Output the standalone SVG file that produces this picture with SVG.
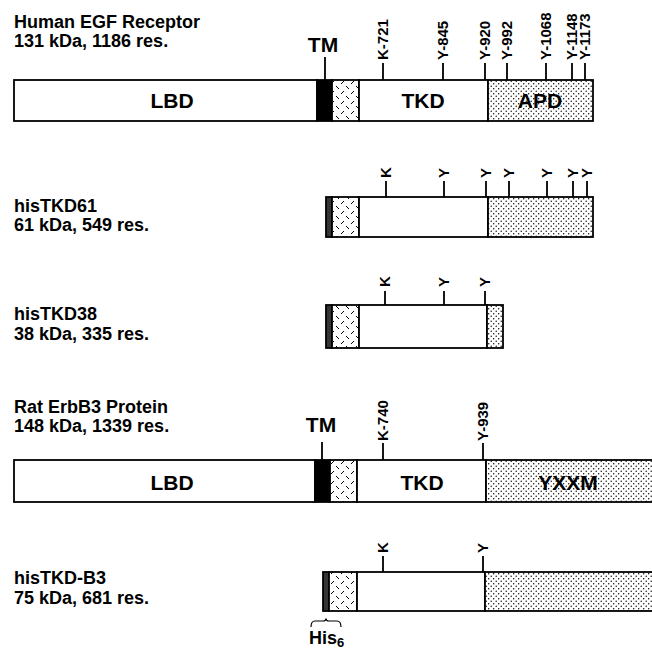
<svg xmlns="http://www.w3.org/2000/svg" width="652" height="652" viewBox="0 0 652 652">
<defs>
<pattern id="hatch" width="10" height="10" patternUnits="userSpaceOnUse">
<rect width="10" height="10" fill="#fff"/>
<path d="M1 4 L4 1 M6 6 L9 9" stroke="#000" stroke-width="1" fill="none"/>
</pattern>
<pattern id="dots" width="5" height="5" patternUnits="userSpaceOnUse">
<rect width="5" height="5" fill="#fff"/>
<circle cx="1.2" cy="1.2" r="0.7" fill="#000"/>
<circle cx="3.7" cy="3.7" r="0.7" fill="#000"/>
</pattern>
<pattern id="his" width="2" height="2" patternUnits="userSpaceOnUse">
<rect width="2" height="2" fill="#222"/>
<circle cx="1" cy="1" r="0.45" fill="#bbb"/>
</pattern>
<style>
.t{font-family:"Liberation Sans",Arial,sans-serif;font-weight:bold;fill:#000}
.name{font-size:18px}
.dom{font-size:21px;text-anchor:middle}
.lab{font-size:15px}
.box{stroke:#000;stroke-width:1.8}
.w{fill:#fff}
.tm{fill:#000}
.hx{fill:url(#hatch)}
.dt{fill:url(#dots)}
.hs{fill:url(#his)}
.tick{stroke:#000;stroke-width:1.8;fill:none}
</style>
</defs>

<!-- Row 1: Human EGF Receptor -->
<g id="egfr">
<text class="t name" x="14" y="28">Human EGF Receptor</text>
<text class="t name" x="14" y="47">131 kDa, 1186 res.</text>
<rect class="box w" x="14" y="80" width="303" height="41"/>
<rect class="box tm" x="317" y="80" width="15" height="41"/>
<rect class="box hx" x="332" y="80" width="27" height="41"/>
<rect class="box w" x="359" y="80" width="129" height="41"/>
<rect class="box dt" x="488" y="80" width="105" height="41"/>
<text class="t dom" x="172" y="108">LBD</text>
<text class="t dom" x="423" y="108">TKD</text>
<text class="t dom" x="540" y="108">APD</text>
<text class="t dom" x="323" y="52">TM</text>
<text class="t lab" transform="translate(388,60) rotate(-90)">K-721</text>
<text class="t lab" transform="translate(448,60) rotate(-90)">Y-845</text>
<text class="t lab" transform="translate(490,60) rotate(-90)">Y-920</text>
<text class="t lab" transform="translate(512,60) rotate(-90)">Y-992</text>
<text class="t lab" transform="translate(551,60) rotate(-90)">Y-1068</text>
<text class="t lab" transform="translate(577,60) rotate(-90)">Y-1148</text>
<text class="t lab" transform="translate(590,60) rotate(-90)">Y-1173</text>
</g>

<!-- Row 2: hisTKD61 -->
<g id="histkd61">
<text class="t name" x="14" y="212">hisTKD61</text>
<text class="t name" x="14" y="231">61 kDa, 549 res.</text>
<rect class="box hs" x="326" y="197" width="6" height="40"/>
<rect class="box hx" x="332" y="197" width="27" height="40"/>
<rect class="box w" x="359" y="197" width="129" height="40"/>
<rect class="box dt" x="488" y="197" width="105" height="40"/>
<text class="t lab" transform="translate(391,178) rotate(-90)">K</text>
<text class="t lab" transform="translate(449,178) rotate(-90)">Y</text>
<text class="t lab" transform="translate(491,178) rotate(-90)">Y</text>
<text class="t lab" transform="translate(514,178) rotate(-90)">Y</text>
<text class="t lab" transform="translate(552,178) rotate(-90)">Y</text>
<text class="t lab" transform="translate(578,178) rotate(-90)">Y</text>
<text class="t lab" transform="translate(592,178) rotate(-90)">Y</text>
</g>

<!-- Row 3: hisTKD38 -->
<g id="histkd38">
<text class="t name" x="14" y="320">hisTKD38</text>
<text class="t name" x="14" y="340">38 kDa, 335 res.</text>
<rect class="box hs" x="326" y="305" width="6" height="43"/>
<rect class="box hx" x="332" y="305" width="27" height="43"/>
<rect class="box w" x="359" y="305" width="128" height="43"/>
<rect class="box dt" x="487" y="305" width="16" height="43"/>
<text class="t lab" transform="translate(390,287) rotate(-90)">K</text>
<text class="t lab" transform="translate(449,287) rotate(-90)">Y</text>
<text class="t lab" transform="translate(490,287) rotate(-90)">Y</text>
</g>

<!-- Row 4: Rat ErbB3 -->
<g id="erbb3">
<text class="t name" x="14" y="413">Rat ErbB3 Protein</text>
<text class="t name" x="14" y="432">148 kDa, 1339 res.</text>
<rect class="box w" x="14" y="460" width="301" height="42"/>
<rect class="box tm" x="315" y="460" width="15" height="42"/>
<rect class="box hx" x="330" y="460" width="27" height="42"/>
<rect class="box w" x="357" y="460" width="129" height="42"/>
<rect class="box dt" x="486" y="460" width="170" height="42"/>
<text class="t dom" x="172" y="490">LBD</text>
<text class="t dom" x="422" y="490">TKD</text>
<text class="t dom" x="568" y="490">YXXM</text>
<text class="t dom" x="321" y="432">TM</text>
<text class="t lab" transform="translate(388,441) rotate(-90)">K-740</text>
<text class="t lab" transform="translate(488,441) rotate(-90)">Y-939</text>
</g>

<!-- Row 5: hisTKD-B3 -->
<g id="histkdb3">
<text class="t name" x="14" y="584">hisTKD-B3</text>
<text class="t name" x="14" y="604">75 kDa, 681 res.</text>
<rect class="box hs" x="323" y="572" width="6" height="39"/>
<rect class="box hx" x="329" y="572" width="28" height="39"/>
<rect class="box w" x="357" y="572" width="128" height="39"/>
<rect class="box dt" x="485" y="572" width="171" height="39"/>
<text class="t lab" transform="translate(388,553) rotate(-90)">K</text>
<text class="t lab" transform="translate(488,553) rotate(-90)">Y</text>
</g>

<g id="his6">
<path d="M311 627 Q311 621 315 621 L323 621 Q326 621 326 618.5 Q326 621 329 621 L337 621 Q341 621 341 627" stroke="#000" stroke-width="1.2" fill="none"/>
<text class="t name" x="309" y="644">His<tspan font-size="13" dy="3">6</tspan></text>
</g>

<g id="connectors">
<path class="tick" d="M325 57 V80 M383 63 V80 M443 63 V80 M485 63 V80 M507 63 V80 M546 63 V80 M572 63 V80 M585 63 V80"/>
<path class="tick" d="M386 181 V197 M444 181 V197 M486 181 V197 M509 181 V197 M547 181 V197 M573 181 V197 M587 181 V197"/>
<path class="tick" d="M385 291 V305 M444 291 V305 M485 291 V305"/>
<path class="tick" d="M322 442 V460 M383 443 V460 M483 443 V460"/>
<path class="tick" d="M383 556 V572 M483 556 V572"/>
</g>
</svg>
